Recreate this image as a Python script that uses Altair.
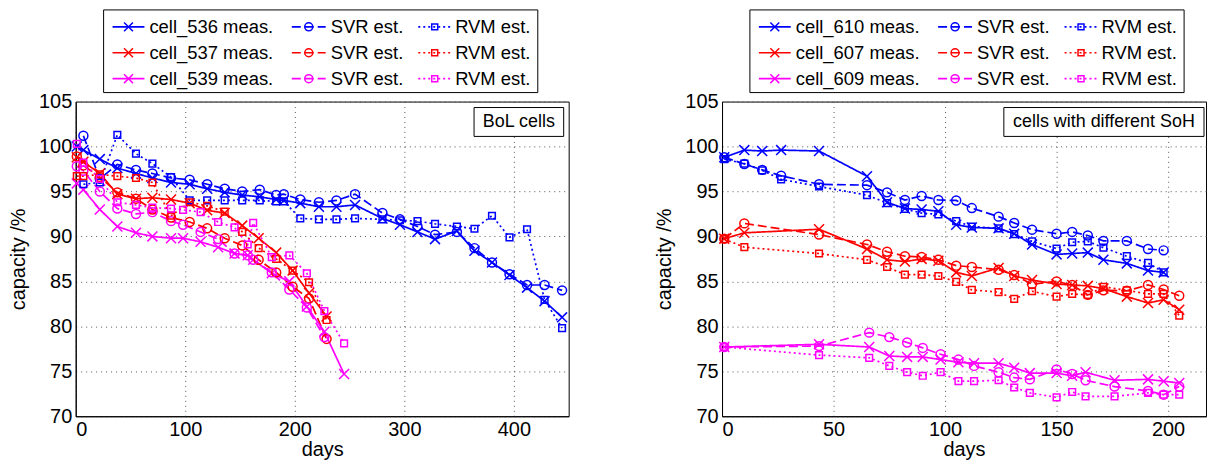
import altair as alt
import pandas as pd

FONT = "Liberation Sans"
COLORS = ["#0000FF", "#FF0000", "#FF00FF"]
METHODS = ["meas", "SVR", "RVM"]
YTICKS = [70, 75, 80, 85, 90, 95, 100, 105]

# ---------------- left panel: BoL cells ----------------
LEFT_CELLS = ["cell_536", "cell_537", "cell_539"]
LEFT_XTICKS = [0, 100, 200, 300, 400]

C536_DAYS = [1, 7, 22, 38, 55, 70, 87, 104, 120, 136, 152, 168, 183, 190, 205, 222, 238, 255,
             280, 296, 312, 328, 348, 364, 380, 396, 412, 428, 444]
C536_MEAS = [100.0, 99.6, 98.6, 97.6, 97.0, 96.5, 96.0, 95.8, 95.3, 94.9, 94.6, 94.4, 94.1, 94.0,
             93.7, 93.3, 93.3, 93.5, 92.0, 91.3, 90.5, 89.7, 90.6, 88.4, 87.1, 85.7, 84.3, 82.8, 81.0]
C536_EST_DAYS = [7, 22, 38, 55, 70, 87, 104, 120, 136, 152, 168, 183, 190, 205, 222, 238, 255,
                 280, 296, 312, 328, 348, 364, 380, 396, 412, 428, 444]
C536_SVR = [101.2, 96.4, 98.0, 97.4, 97.0, 96.5, 96.3, 95.8, 95.3, 95.0, 95.2, 94.6, 94.7, 94.1,
            93.8, 94.0, 94.7, 92.6, 91.9, 91.1, 90.2, 90.5, 88.7, 87.1, 85.8, 84.6, 84.6, 84.0]
C536_RVM = [95.8, 96.0, 101.3, 99.2, 98.1, 96.6, 94.0, 94.0, 94.0, 94.0, 94.0, 93.9, 93.9, 92.0,
            91.9, 91.9, 92.0, 91.9, 91.8, 91.7, 91.4, 91.1, 90.85, 92.3, 89.9, 90.8, 82.95, 79.8]

C537_DAYS = [1, 7, 22, 38, 55, 70, 87, 104, 120, 136, 152, 167, 183, 198, 213, 229]
C537_MEAS = [98.8, 98.3, 97.0, 94.7, 94.2, 94.3, 94.1, 93.7, 92.9, 92.6, 91.2, 89.8, 88.2, 86.2, 83.7, 81.1]
C537_SVR = [98.9, 97.9, 96.6, 94.9, 94.2, 93.0, 92.1, 91.6, 90.9, 89.8, 89.0, 87.4, 86.0, 84.4, 83.1, 78.6]
C537_RVM = [96.7, 96.7, 96.9, 96.7, 96.5, 96.0, 92.3, 93.8, 93.4, 92.75, 90.5, 88.7, 87.5, 86.2, 84.9, 80.7]

C539_DAYS = [1, 7, 22, 38, 55, 70, 87, 98, 114, 130, 145, 157, 162, 179, 195, 211, 227, 245]
C539_MEAS = [95.9, 95.2, 93.0, 91.1, 90.4, 90.0, 89.8, 89.8, 89.4, 88.8, 88.1, 87.9, 87.4, 85.9,
             85.0, 82.2, 79.4, 74.7]
C539_SVR_DAYS = [1, 7, 22, 38, 55, 70, 87, 98, 114, 130, 145, 157, 162, 179, 195, 211, 227]
C539_SVR = [97.8, 97.3, 95.0, 93.1, 92.5, 92.7, 91.7, 91.3, 90.5, 89.7, 88.1, 87.9, 87.4, 86.0,
            84.1, 82.1, 78.8]
C539_RVM = [100.3, 98.2, 96.4, 93.8, 93.5, 93.2, 93.1, 92.95, 92.7, 91.6, 91.0, 89.1, 91.5, 87.7,
            87.9, 85.9, 81.7, 78.1]

# ---------------- right panel: cells with different SoH ----------------
RIGHT_CELLS = ["cell_610", "cell_607", "cell_609"]
RIGHT_XTICKS = [0, 50, 100, 150, 200]

C610_DAYS = [1, 10, 18, 26.5, 43.5, 65, 74, 82, 89.5, 97, 105, 112, 124, 131, 139, 150, 157, 164,
             171, 181.5, 191, 198]
C610_MEAS = [98.8, 99.6, 99.5, 99.6, 99.5, 96.7, 93.8, 93.1, 93.0, 92.8, 91.3, 91.0, 90.9, 90.3,
             89.1, 88.0, 88.1, 88.2, 87.4, 87.0, 86.2, 86.0]
C610_SVR = [98.8, 98.05, 97.4, 96.75, 95.8, 95.7, 94.9, 94.05, 94.5, 94.05, 94.0, 93.15, 92.2, 91.5,
            90.75, 90.3, 90.5, 90.1, 89.5, 89.5, 88.6, 88.45]
C610_RVM = [98.6, 98.1, 97.35, 96.35, 95.55, 94.6, 93.7, 93.05, 92.6, 92.45, 91.7, 91.1, 90.9, 90.25,
            89.45, 88.65, 89.35, 89.45, 88.75, 87.8, 87.05, 86.0]

C607_DAYS = [1, 10, 43.5, 65, 74, 82, 89.5, 97, 105, 112, 124, 131, 139, 150, 157, 164, 171, 181.5,
             191, 198, 205]
C607_MEAS = [89.75, 90.4, 90.8, 88.6, 87.4, 87.2, 87.5, 87.3, 86.0, 85.6, 86.5, 85.6, 85.15, 84.7,
             84.6, 84.5, 84.2, 83.3, 82.6, 82.95, 81.85]
C607_SVR = [89.75, 91.45, 90.2, 89.1, 88.3, 87.8, 87.7, 87.4, 86.75, 86.6, 86.3, 85.7, 84.7, 85.0,
            84.6, 83.5, 84.0, 83.95, 84.6, 84.1, 83.4]
C607_RVM = [89.7, 88.8, 88.1, 87.4, 86.6, 85.75, 85.75, 85.6, 84.95, 84.05, 83.8, 83.05, 83.9, 83.3,
            83.6, 83.5, 84.4, 84.0, 83.6, 83.6, 81.2]

C609_DAYS = [1, 43.5, 66, 75, 83, 90, 98, 106, 113, 124, 131, 138, 150, 157, 163, 176, 191, 198, 205]
C609_MEAS = [77.7, 78.0, 77.7, 76.7, 76.6, 76.6, 76.3, 76.0, 75.9, 75.9, 75.4, 74.8, 74.8, 74.5,
             74.9, 74.0, 74.1, 73.9, 73.7]
C609_SVR = [77.7, 77.8, 79.3, 78.8, 78.2, 77.6, 76.9, 76.3, 75.6, 74.9, 74.3, 74.1, 75.2, 74.7,
            74.0, 73.3, 72.8, 72.4, 73.3]
C609_RVM = [77.7, 76.8, 76.5, 75.6, 74.9, 74.5, 74.9, 73.9, 73.9, 74.0, 73.2, 72.6, 72.1, 72.7,
            72.2, 72.2, 72.6, 72.4, 72.4]

LEFT_SERIES = [
    ("c0", "meas", C536_DAYS, C536_MEAS), ("c0", "SVR", C536_EST_DAYS, C536_SVR),
    ("c0", "RVM", C536_EST_DAYS, C536_RVM),
    ("c1", "meas", C537_DAYS, C537_MEAS), ("c1", "SVR", C537_DAYS, C537_SVR),
    ("c1", "RVM", C537_DAYS, C537_RVM),
    ("c2", "meas", C539_DAYS, C539_MEAS), ("c2", "SVR", C539_SVR_DAYS, C539_SVR),
    ("c2", "RVM", C539_DAYS, C539_RVM),
]
RIGHT_SERIES = [
    ("c0", "meas", C610_DAYS, C610_MEAS), ("c0", "SVR", C610_DAYS, C610_SVR),
    ("c0", "RVM", C610_DAYS, C610_RVM),
    ("c1", "meas", C607_DAYS, C607_MEAS), ("c1", "SVR", C607_DAYS, C607_SVR),
    ("c1", "RVM", C607_DAYS, C607_RVM),
    ("c2", "meas", C609_DAYS, C609_MEAS), ("c2", "SVR", C609_DAYS, C609_SVR),
    ("c2", "RVM", C609_DAYS, C609_RVM),
]

# ---------------- styling / layout ----------------
XPATH = "M-1,-1L1,1M-1,1L1,-1"
MARKERS = {"meas": (XPATH, 100), "SVR": ("circle", 81), "RVM": ("square", 45)}
DASHES = [[1, 0], [9, 4], [2, 3]]
PLOT_H = 316
LEG_H = 83
LEG_GAP = 9
LEG_ROWS = [17, 69]
LEG_BOX = [28, 464]
LEG_X0 = [37, 217, 344]
LEG_X1 = [69, 251, 377]
LEG_XT = [74, 256, 381]


def long_df(series):
    rows = []
    for cidx, method, days, vals in series:
        for d, v in zip(days, vals):
            rows.append({"day": d, "value": v, "cidx": cidx, "method": method,
                         "series": cidx + "-" + method})
    return pd.DataFrame(rows)


color_enc = alt.Color("cidx:N", scale=alt.Scale(domain=["c0", "c1", "c2"], range=COLORS), legend=None)
dash_enc = alt.StrokeDash("method:N", scale=alt.Scale(domain=METHODS, range=DASHES), legend=None)


def make_plot(series, xmax, xticks, width, label, box_x):
    df = long_df(series)
    x = alt.X("day:Q", scale=alt.Scale(domain=[0, xmax], nice=False, zero=False),
              axis=alt.Axis(values=xticks, title="days"))
    y = alt.Y("value:Q", scale=alt.Scale(domain=[70, 105], nice=False, zero=False),
              axis=alt.Axis(values=YTICKS, title="capacity /%"))
    lines = alt.Chart(df).mark_line(strokeWidth=1.7).encode(
        x=x, y=y, color=color_enc, strokeDash=dash_enc, detail="series:N")
    layers = [lines]
    for m in METHODS:
        shape, size = MARKERS[m]
        layers.append(alt.Chart(df).transform_filter(alt.datum.method == m).mark_point(
            shape=shape, size=size, filled=False, strokeWidth=1.5, opacity=1).encode(
            x=x, y=y, color=color_enc))
    lab = pd.DataFrame({"t": [label]})
    layers.append(alt.Chart(lab).mark_rect(fill="white", stroke="black", strokeWidth=1).encode(
        x=alt.value(box_x[0]), x2=alt.value(box_x[1]), y=alt.value(6), y2=alt.value(35)))
    layers.append(alt.Chart(lab).mark_text(font=FONT, fontSize=18, align="center",
                                           baseline="middle", color="black").encode(
        x=alt.value((box_x[0] + box_x[1]) / 2), y=alt.value(21), text="t:N"))
    return alt.layer(*layers).properties(width=width, height=PLOT_H)


def make_legend(cells, width):
    rows = []
    for r, cell in enumerate(cells):
        for c, m in enumerate(METHODS):
            lab = cell + " meas." if m == "meas" else m + " est."
            rows.append({"row": r, "cidx": "c%d" % r, "method": m, "x0": LEG_X0[c], "x1": LEG_X1[c],
                         "xm": (LEG_X0[c] + LEG_X1[c]) / 2, "xt": LEG_XT[c], "label": lab})
    df = pd.DataFrame(rows)
    xs = alt.Scale(domain=[0, width], nice=False, zero=False)
    ys = alt.Scale(domain=[0, 2], range=LEG_ROWS, nice=False, zero=False)
    box = alt.Chart(pd.DataFrame({"a": [0]})).mark_rect(fill="white", stroke="black", strokeWidth=1).encode(
        x=alt.value(LEG_BOX[0]), x2=alt.value(LEG_BOX[1]), y=alt.value(0), y2=alt.value(LEG_H))
    rule = alt.Chart(df).mark_rule(strokeWidth=1.7).encode(
        x=alt.X("x0:Q", scale=xs, axis=None), x2="x1:Q",
        y=alt.Y("row:Q", scale=ys, axis=None), color=color_enc, strokeDash=dash_enc)
    layers = [box, rule]
    for m in METHODS:
        shape, size = MARKERS[m]
        layers.append(alt.Chart(df).transform_filter(alt.datum.method == m).mark_point(
            shape=shape, size=size * 0.8, filled=False, strokeWidth=1.5, opacity=1).encode(
            x=alt.X("xm:Q", scale=xs, axis=None), y=alt.Y("row:Q", scale=ys, axis=None),
            color=color_enc))
    layers.append(alt.Chart(df).mark_text(font=FONT, fontSize=18.5, align="left", baseline="middle",
                                          color="black").encode(
        x=alt.X("xt:Q", scale=xs, axis=None), y=alt.Y("row:Q", scale=ys, axis=None), text="label:N"))
    return alt.layer(*layers).properties(width=width, height=LEG_H,
                                          view=alt.ViewBackground(stroke="transparent"))


LW, RW = 495, 486
left_plot = make_plot(LEFT_SERIES, 450, LEFT_XTICKS, LW, "BoL cells", [400, 490])
right_plot = make_plot(RIGHT_SERIES, 217, RIGHT_XTICKS, RW, "cells with different SoH", [283, 484])
left_leg = make_legend(LEFT_CELLS, LW)
right_leg = make_legend(RIGHT_CELLS, RW)

chart = alt.concat(left_leg, right_leg, left_plot, right_plot, columns=2,
                   spacing={"row": LEG_GAP, "column": 154}, bounds="flush").resolve_scale(
    x="independent", y="independent").properties(padding=0).configure_axis(
    labelFont=FONT, titleFont=FONT, labelFontSize=20, titleFontSize=20, titleFontWeight="normal",
    labelColor="black", titleColor="black", domainColor="black", ticks=False, grid=True,
    gridColor="#555555", gridDash=[1, 4], gridWidth=1, labelPadding=4).configure_axisY(
    titlePadding=10).configure_axisX(titlePadding=0, labelPadding=3).configure_view(
    stroke="black", strokeWidth=1)

chart.save("out.html", embed_options={"renderer": "svg", "actions": False})
